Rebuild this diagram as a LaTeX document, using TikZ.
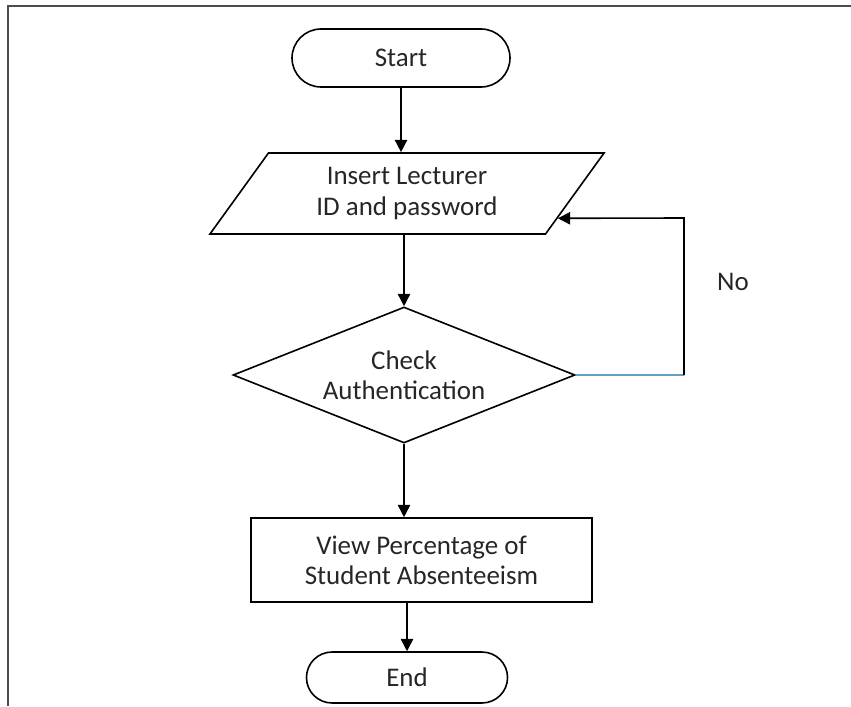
\documentclass[tikz,border=0pt]{standalone}
\usepackage{fontspec}
\setmainfont{Carlito}
\usetikzlibrary{shapes.geometric,shapes.misc,arrows.meta,calc}

\begin{document}
\begin{tikzpicture}[x=0.375pt, y=-0.375pt,
    every node/.style={font=\fontsize{10.1}{11.3}\selectfont, text=black!85, align=center},
    box/.style={draw, line width=0.6pt, inner sep=0pt},
    terminal/.style={box, rounded rectangle},
    inout/.style={box, trapezium, trapezium left angle=53.5, trapezium right angle=126.5, trapezium stretches=true},
    decision/.style={box, diamond, aspect=2.5},
    process/.style={box, rectangle},
    arr/.style={-{Triangle[length=4.6pt,width=4.6pt]}, line width=0.6pt},
    blueline/.style={draw=blue!40!cyan!60!black!60!white, line width=0.45pt}]
    \useasboundingbox (0,0) rectangle (851,706);
    %
    \draw[black!70, line width=0.6pt] (8,706) -- (8,6) -- (851,6);
    %
    \node[terminal, minimum width=81.75pt, minimum height=21.75pt] (start) at (401,58) {Start};
    \node[inout, minimum width=148.5pt, minimum height=30.4pt] (input) at (407,193.5) {Insert Lecturer\\ID and password};
    \node[decision, minimum width=128.25pt, minimum height=51pt] (check) at (404,375) {Check\\Authentication};
    \node[process, minimum width=127.9pt, minimum height=31.5pt] (view) at (421.5,560) {View Percentage of\\Student Absenteeism};
    \node[terminal, minimum width=75.4pt, minimum height=19.1pt] (end) at (407,677.5) {End};
    \node (no) at (733,282) {No};
    %
    \coordinate (back) at ($(input.bottom right corner)!0.2!(input.top right corner)$);
    \coordinate (turn) at (684,218);
    %
    \draw[arr] (start.south) -- (start.south |- input.north);
    \draw[arr] (check.north |- input.south) -- (check.north);
    \draw[arr] (check.south) -- (check.south |- view.north);
    \draw[arr] (end.north |- view.south) -- (end.north);
    \draw[blueline] (check.east) -- (check.east -| turn);
    \draw[arr] (check.east -| turn) -- (turn) -- (back);
\end{tikzpicture}
\end{document}
